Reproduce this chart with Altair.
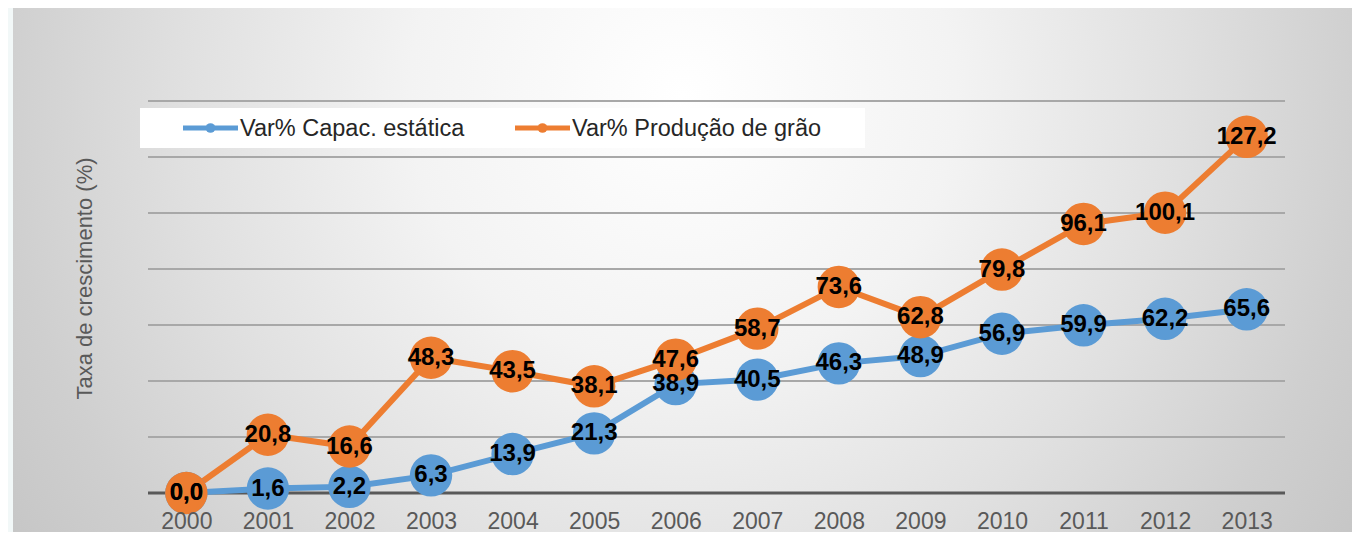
import altair as alt
import pandas as pd

years = [str(y) for y in range(2000, 2014)]
capac = [0.0, 1.6, 2.2, 6.3, 13.9, 21.3, 38.9, 40.5, 46.3, 48.9, 56.9, 59.9, 62.2, 65.6]
producao = [0.0, 20.8, 16.6, 48.3, 43.5, 38.1, 47.6, 58.7, 73.6, 62.8, 79.8, 96.1, 100.1, 127.2]
series_names = ["Var% Capac. estática", "Var% Produção de grão"]
series_colors = ["#5b9bd5", "#ed7d31"]
grid_values = [20, 40, 60, 80, 100, 120, 140]
y_title = "Taxa de crescimento (%)"

rows = []
for name, vals in zip(series_names, [capac, producao]):
    for yr, v in zip(years, vals):
        rows.append({"year": yr, "value": v, "series": name,
                     "label": f"{v:.1f}".replace(".", ",")})
df = pd.DataFrame(rows)
grid_df = pd.DataFrame({"g": grid_values})

FONT = "Liberation Sans"

x_enc = alt.X("year:O", scale=alt.Scale(type="point", padding=0.47),
              axis=alt.Axis(title=None, labelFontSize=23, labelColor="#595959",
                            labelFont=FONT, labelPadding=17, ticks=False,
                            domain=False, grid=False, labelAngle=0, zindex=1))
y_scale = alt.Scale(domain=[0, 140], nice=False, zero=True)
y_axis = alt.Axis(title=y_title, labels=False, ticks=False, domain=False, grid=False,
                  titleFontSize=22, titleColor="#595959", titleFont=FONT,
                  titleFontWeight="normal", titleAngle=270, titleX=-64, titleY=177,
                  titleAlign="center", titleBaseline="middle", zindex=1)

one = alt.Data(values=[{"a": 1}])

panel = alt.Chart(one).mark_rect(
    fill=alt.RadialGradient(
        gradient="radial",
        stops=[alt.GradientStop(offset=0, color="#ffffff"),
               alt.GradientStop(offset=0.3, color="#f3f3f3"),
               alt.GradientStop(offset=0.55, color="#e0e0e0"),
               alt.GradientStop(offset=0.75, color="#cfcfcf"),
               alt.GradientStop(offset=0.9, color="#c5c5c5"),
               alt.GradientStop(offset=1, color="#bebebe")],
        x1=0.5, y1=0.37, r1=0, x2=0.5, y2=0.37, r2=0.68)
).encode(x=alt.value(-135), x2=alt.value(1204), y=alt.value(-93), y2=alt.value(431))

grid = alt.Chart(grid_df).mark_rule(color="#a8a8a8", strokeWidth=1.8).encode(
    y=alt.Y("g:Q", scale=y_scale, axis=y_axis)
)
zero = alt.Chart(one).mark_rule(color="#595959", strokeWidth=3).encode(
    y=alt.datum(0, scale=y_scale)
)

# legend (white box + line/marker glyphs + labels)
legend_box = alt.Chart(one).mark_rect(fill="white").encode(
    x=alt.value(-8), x2=alt.value(717), y=alt.value(7), y2=alt.value(47)
)
legend_layers = []
for name, col, x0 in zip(series_names, series_colors, [35, 367]):
    legend_layers.append(alt.Chart(one).mark_rule(color=col, strokeWidth=5).encode(
        x=alt.value(x0), x2=alt.value(x0 + 55), y=alt.value(27)))
    legend_layers.append(alt.Chart(one).mark_circle(color=col, size=95, opacity=1).encode(
        x=alt.value(x0 + 27.5), y=alt.value(27)))
    legend_layers.append(alt.Chart(one).mark_text(
        font=FONT, fontSize=23.5, color="#262626", align="left", baseline="middle").encode(
        x=alt.value(x0 + 57), y=alt.value(28), text=alt.value(name)))

base = alt.Chart(df)
lines = base.mark_line(strokeWidth=6).encode(
    x=x_enc,
    y=alt.Y("value:Q", scale=y_scale, axis=y_axis),
    stroke=alt.Stroke("series:N", scale=alt.Scale(domain=series_names, range=series_colors),
                      legend=None),
    detail="series:N",
)
points = base.mark_circle(size=1800, opacity=1).encode(
    x=x_enc,
    y=alt.Y("value:Q", scale=y_scale, axis=y_axis),
    fill=alt.Fill("series:N", scale=alt.Scale(domain=series_names, range=series_colors),
                  legend=None),
    order=alt.Order("series:N"),
)
labels = base.mark_text(fontSize=24, fontWeight="bold", font=FONT, color="black",
                        baseline="middle", align="center").encode(
    x=x_enc,
    y=alt.Y("value:Q", scale=y_scale, axis=y_axis),
    text="label:N",
)

chart = alt.layer(panel, grid, zero, legend_box, *legend_layers,
                  lines, points, labels).properties(
    width=1137, height=392,
    autosize=alt.AutoSizeParams(type="none"),
    padding={"left": 140, "top": 93, "right": 67, "bottom": 39},
).configure(background="#f2f8f8").configure_view(stroke=None)

chart.save("out.html", embed_options={"renderer": "svg", "actions": False})
